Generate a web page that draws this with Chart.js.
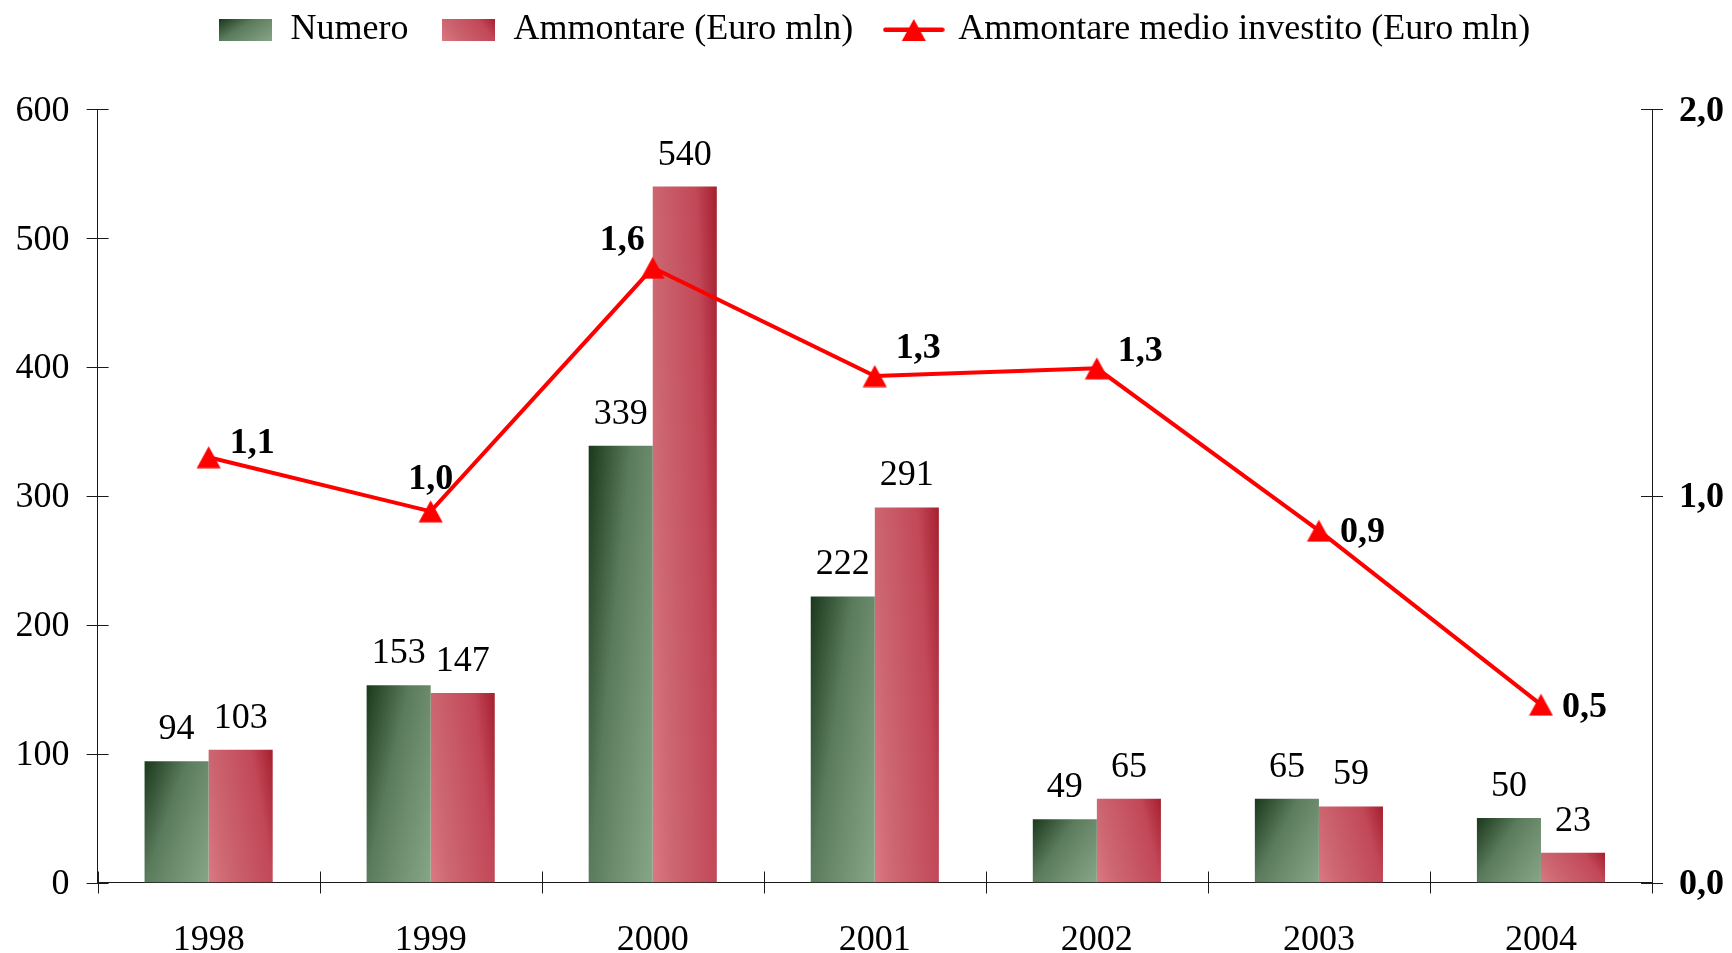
<!DOCTYPE html>
<html>
<head>
<meta charset="utf-8">
<script src="https://cdn.jsdelivr.net/npm/chart.js@4.4.1/dist/chart.umd.min.js"></script>
<style>
html,body{margin:0;padding:0;background:#fff;}
#wrap{width:1732px;height:953px;position:relative;}
</style>
</head>
<body>
<div id="wrap"><canvas id="c" width="1732" height="953"></canvas></div>
<script>
// ---- data ----
const years = ['1998', '1999', '2000', '2001', '2002', '2003', '2004'];
const numero = [94, 153, 339, 222, 49, 65, 50];
const ammontare = [103, 147, 540, 291, 65, 59, 23];
const ammontareMedio = [1.10, 0.96, 1.59, 1.31, 1.33, 0.91, 0.46];
const leftTicks = [0, 100, 200, 300, 400, 500, 600];
const rightTicks = [0, 1, 2];
const seriesNames = ['Numero', 'Ammontare (Euro mln)', 'Ammontare medio investito (Euro mln)'];

// ---- style ----
const FAMILY = '"Liberation Serif", "Times New Roman", serif';
const FS = 36;
const AXIS = '#1a1a1a';
// placement of the line's value labels: [side, vertical shift]
const medioLabelPlace = [['right', -14], ['above', -32], ['left', -27], ['right', -27], ['right', -17], ['right', 2], ['right', 3]];

function greenGrad(ctx, L, T, W, H) {
  const a = 0.6, b = 0.4;
  const gx = a / W, gy = b / H, n = gx * gx + gy * gy;
  const g = ctx.createLinearGradient(L, T, L + gx / n, T + gy / n);
  g.addColorStop(0, '#1a381b');
  g.addColorStop(0.4, '#5b7b5d');
  g.addColorStop(0.6, '#6a8a6b');
  g.addColorStop(1, '#86a687');
  return g;
}
function redGrad(ctx, L, T, W, H) {
  const a = 0.75, b = 0.25, B = T + H;
  const gx = a / W, gy = -b / H, n = gx * gx + gy * gy;
  const g = ctx.createLinearGradient(L, B, L + gx / n, B + gy / n);
  g.addColorStop(0, '#db7882');
  g.addColorStop(0.25, '#cc6670');
  g.addColorStop(0.75, '#c24858');
  g.addColorStop(1, '#a51f2e');
  return g;
}
const gradFns = [greenGrad, redGrad];

function makeBoxIcon(fn) {
  const c = document.createElement('canvas');
  c.width = 53; c.height = 22;
  const x = c.getContext('2d');
  x.fillStyle = fn(x, 0, 0, 53, 22);
  x.fillRect(0, 0, 53, 22);
  return c;
}
function makeTriangle() {
  const c = document.createElement('canvas');
  c.width = 25; c.height = 23;
  const x = c.getContext('2d');
  x.fillStyle = '#ff0000';
  x.beginPath(); x.moveTo(12.5, 0.5); x.lineTo(24.5, 22.5); x.lineTo(0.5, 22.5); x.closePath(); x.fill();
  return c;
}
function makeLineIcon() {
  const c = document.createElement('canvas');
  c.width = 62; c.height = 24;
  const x = c.getContext('2d');
  x.strokeStyle = '#ff0000'; x.lineWidth = 4.5; x.lineCap = 'round';
  x.beginPath(); x.moveTo(2.5, 11.7); x.lineTo(59.5, 11.7); x.stroke();
  x.fillStyle = '#ff0000';
  x.beginPath(); x.moveTo(31, 1); x.lineTo(43, 23); x.lineTo(19, 23); x.closePath(); x.fill();
  return c;
}
const triangleImg = makeTriangle();
const legendIcons = [makeBoxIcon(greenGrad), makeBoxIcon(redGrad), makeLineIcon()];

const decor = {
  id: 'decor',
  beforeDatasetDraw(chart, args) {
    const meta = args.meta;
    if (meta.type !== 'bar') return;
    const fn = gradFns[args.index];
    const ctx = chart.ctx;
    meta.data.forEach(el => {
      const p = el.getProps(['x', 'y', 'base', 'width'], true);
      const L = p.x - p.width / 2, T = Math.min(p.y, p.base), H = Math.max(1, Math.abs(p.base - p.y));
      el.options = Object.assign({}, el.options, { backgroundColor: fn(ctx, L, T, p.width, H) });
    });
  },
  afterDraw(chart) {
    const ctx = chart.ctx;
    const ca = chart.chartArea;
    const sx = chart.scales.x, sy = chart.scales.y, sy1 = chart.scales.y1;
    ctx.save();
    ctx.strokeStyle = AXIS;
    ctx.lineWidth = 1;
    ctx.beginPath();
    sy.ticks.forEach(t => {
      const py = Math.round(sy.getPixelForValue(t.value)) + 0.5;
      ctx.moveTo(ca.left - 11, py); ctx.lineTo(ca.left + 11, py);
    });
    sy1.ticks.forEach(t => {
      const py = Math.round(sy1.getPixelForValue(t.value)) + 0.5;
      ctx.moveTo(ca.right - 11, py); ctx.lineTo(ca.right + 11, py);
    });
    for (let i = 0; i <= years.length; i++) {
      const px = Math.round(sx.getPixelForValue(i - 0.5)) + 0.5;
      ctx.moveTo(px, ca.bottom - 11); ctx.lineTo(px, ca.bottom + 11);
    }
    ctx.stroke();

    // bar value labels
    ctx.fillStyle = '#000';
    ctx.font = FS + 'px ' + FAMILY;
    ctx.textAlign = 'center';
    ctx.textBaseline = 'alphabetic';
    [0, 1].forEach(di => {
      const meta = chart.getDatasetMeta(di);
      const data = chart.data.datasets[di].data;
      meta.data.forEach((el, i) => {
        ctx.fillText(String(data[i]), el.x, el.y - 22);
      });
    });

    // line value labels
    ctx.font = 'bold ' + FS + 'px ' + FAMILY;
    ctx.textBaseline = 'middle';
    const lm = chart.getDatasetMeta(2);
    const ld = chart.data.datasets[2].data;
    lm.data.forEach((el, i) => {
      const txt = ld[i].toFixed(1).replace('.', ',');
      const [side, dy] = medioLabelPlace[i];
      let x = el.x;
      if (side === 'right') { ctx.textAlign = 'left'; x = el.x + 21; }
      else if (side === 'left') { ctx.textAlign = 'right'; x = el.x - 8; }
      else { ctx.textAlign = 'center'; }
      ctx.fillText(txt, x, el.y + dy);
    });
    ctx.restore();
  }
};

const font = { family: FAMILY, size: FS };

new Chart(document.getElementById('c'), {
  type: 'bar',
  data: {
    labels: years,
    datasets: [
      { label: seriesNames[0], data: numero, backgroundColor: '#4d6d4f', borderWidth: 0, yAxisID: 'y', order: 1,
        categoryPercentage: 0.577, barPercentage: 1.0 },
      { label: seriesNames[1], data: ammontare, backgroundColor: '#c24858', borderWidth: 0, yAxisID: 'y', order: 1,
        categoryPercentage: 0.577, barPercentage: 1.0 },
      { type: 'line', label: seriesNames[2], data: ammontareMedio, yAxisID: 'y1', order: 0,
        borderColor: '#ff0000', backgroundColor: '#ff0000', borderWidth: 4, tension: 0,
        pointStyle: triangleImg, pointRadius: 12, fill: false }
    ]
  },
  options: {
    responsive: false,
    animation: false,
    devicePixelRatio: 1,
    layout: { padding: { top: -22, left: 0, right: 0, bottom: 0 } },
    plugins: {
      tooltip: { enabled: false },
      title: { display: true, text: '', weight: 500, position: 'top', padding: 0,
               font: { size: 51.3, lineHeight: 1 } },
      legend: {
        position: 'top',
        fullSize: false,
        labels: {
          usePointStyle: true, pointStyleWidth: 53, boxHeight: 22, padding: 34,
          color: '#000', font: font,
          generateLabels(chart) {
            return chart.data.datasets.map((ds, i) => ({
              text: ds.label, pointStyle: legendIcons[i], fillStyle: 'rgba(0,0,0,0)',
              strokeStyle: 'rgba(0,0,0,0)', lineWidth: 0, hidden: false, datasetIndex: i
            }));
          }
        }
      }
    },
    scales: {
      x: {
        type: 'category',
        offset: true,
        grid: { display: false, drawTicks: false },
        border: { display: true, color: AXIS, width: 1 },
        ticks: { color: '#000', font: font, padding: 36, maxRotation: 0, autoSkip: false },
        afterFit(s) { s.height = 70.5; }
      },
      y: {
        position: 'left',
        min: 0, max: 600,
        grid: { display: false, drawTicks: false },
        border: { display: true, color: AXIS, width: 1 },
        ticks: { color: '#000', font: font, padding: 28, labelOffset: 2 },
        afterBuildTicks(s) { s.ticks = leftTicks.map(v => ({ value: v })); },
        afterFit(s) { s.width = 97.6; }
      },
      y1: {
        position: 'right',
        min: 0, max: 2,
        grid: { display: false, drawTicks: false },
        border: { display: true, color: AXIS, width: 1 },
        ticks: { color: '#000', font: { family: FAMILY, size: FS, weight: 'bold' }, padding: 27, labelOffset: 2,
                 callback: v => Number(v).toFixed(1).replace('.', ',') },
        afterBuildTicks(s) { s.ticks = rightTicks.map(v => ({ value: v })); },
        afterFit(s) { s.width = 80; }
      }
    }
  },
  plugins: [decor]
});
</script>
</body>
</html>
